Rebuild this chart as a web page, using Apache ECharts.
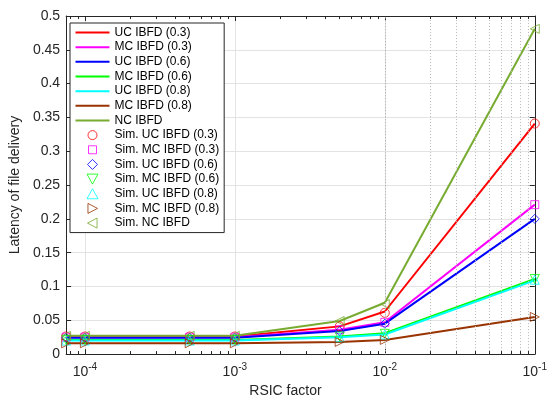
<!DOCTYPE html>
<html><head><meta charset="utf-8">
<script src="https://cdn.jsdelivr.net/npm/echarts@6/dist/echarts.min.js"></script>
<style>html,body{margin:0;padding:0;background:#fff}#c{width:550px;height:403px}</style>
</head><body><div id="c"></div>
<script>
// RSIC factor (x) values
const rsic = [7.5e-5, 1e-4, 5e-4, 1e-3, 5e-3, 1e-2, 1e-1];
// Analytical curves
const ucIbfd03 = [0.026, 0.026, 0.026, 0.026, 0.041, 0.063, 0.341];
const mcIbfd03 = [0.025, 0.025, 0.025, 0.025, 0.036, 0.047, 0.221];
const ucIbfd06 = [0.024, 0.024, 0.024, 0.024, 0.034, 0.045, 0.200];
const mcIbfd06 = [0.021, 0.021, 0.021, 0.021, 0.026, 0.031, 0.111];
const ucIbfd08 = [0.020, 0.020, 0.020, 0.020, 0.025, 0.029, 0.109];
const mcIbfd08 = [0.016, 0.016, 0.016, 0.016, 0.018, 0.021, 0.055];
const ncIbfd   = [0.027, 0.027, 0.027, 0.027, 0.049, 0.076, 0.481];
// Simulation points
const simUcIbfd03 = [0.026, 0.026, 0.026, 0.026, 0.041, 0.061, 0.341];
const simMcIbfd03 = [0.025, 0.025, 0.025, 0.025, 0.036, 0.047, 0.221];
const simUcIbfd06 = [0.024, 0.024, 0.024, 0.024, 0.034, 0.045, 0.200];
const simMcIbfd06 = [0.021, 0.021, 0.021, 0.021, 0.026, 0.030, 0.111];
const simUcIbfd08 = [0.020, 0.020, 0.020, 0.020, 0.025, 0.029, 0.110];
const simMcIbfd08 = [0.016, 0.016, 0.016, 0.016, 0.018, 0.021, 0.055];
const simNcIbfd   = [0.027, 0.027, 0.027, 0.027, 0.049, 0.074, 0.481];
// Axis ticks
const xDecades = [-5, -4, -3, -2];
const minorMult = [2, 3, 4, 5, 6, 7, 8, 9];
const yMin = 0, yMax = 0.5, yStep = 0.05;
const xMin = 7.5e-5, xMax = 0.1;

const C = {red:'#ff0000', mag:'#ff00ff', blue:'#0000ff', green:'#00ff00', cyan:'#00ffff', brown:'#993300', olive:'#77ac30'};
const axisCol = '#262626';

// legend icon shapes drawn inside a 34 x 10 box (marker centred)
const BOX = 'M0 0 M34 10 ';
const legendIcons = {
  circle: 'path://' + BOX + 'M21.5 5 A4.5 4.5 0 1 1 12.5 5 A4.5 4.5 0 1 1 21.5 5 Z',
  rect: 'path://' + BOX + 'M13 1 L21 1 L21 9 L13 9 Z',
  diamond: 'path://' + BOX + 'M17 0 L22 5 L17 10 L12 5 Z',
  up: 'path://' + BOX + 'M17 0 L22.5 10 L11.5 10 Z',
  down: 'path://' + BOX + 'M11.5 0 L22.5 0 L17 10 Z',
  right: 'path://' + BOX + 'M12 -0.5 L22.5 5 L12 10.5 Z',
  left: 'path://' + BOX + 'M22 -0.5 L22 10.5 L11.5 5 Z'
};

const lineDefs = [
  ['UC IBFD (0.3)', ucIbfd03, C.red],
  ['MC IBFD (0.3)', mcIbfd03, C.mag],
  ['UC IBFD (0.6)', ucIbfd06, C.blue],
  ['MC IBFD (0.6)', mcIbfd06, C.green],
  ['UC IBFD (0.8)', ucIbfd08, C.cyan],
  ['MC IBFD (0.8)', mcIbfd08, C.brown],
  ['NC IBFD', ncIbfd, C.olive]
];
const simDefs = [
  ['Sim. UC IBFD (0.3)', simUcIbfd03, C.red, 'circle', 0, legendIcons.circle],
  ['Sim. MC IBFD (0.3)', simMcIbfd03, C.mag, 'rect', 0, legendIcons.rect],
  ['Sim. UC IBFD (0.6)', simUcIbfd06, C.blue, 'diamond', 0, legendIcons.diamond],
  ['Sim. MC IBFD (0.6)', simMcIbfd06, C.green, 'triangle', 180, legendIcons.down],
  ['Sim. UC IBFD (0.8)', simUcIbfd08, C.cyan, 'triangle', 0, legendIcons.up],
  ['Sim. MC IBFD (0.8)', simMcIbfd08, C.brown, 'triangle', -90, legendIcons.right],
  ['Sim. NC IBFD', simNcIbfd, C.olive, 'triangle', 90, legendIcons.left]
];

const minorVals = [];
xDecades.forEach(d => minorMult.forEach(m => {
  const v = m * Math.pow(10, d);
  if (v > xMin && v < xMax) minorVals.push(v);
}));
const tickLen = 0.0045;
const markLineData = [];
minorVals.forEach(v => {
  markLineData.push([{coord:[v, yMin]}, {coord:[v, yMin + tickLen]}]);
  markLineData.push([{coord:[v, yMax]}, {coord:[v, yMax - tickLen]}]);
});

const series = [];
series.push({
  type:'line', name:'_minorgrid', data:[], z:1, silent:true,
  markLine:{silent:true, symbol:'none', animation:false, label:{show:false},
    lineStyle:{color:'#b8b8b8', type:[1,2], width:1},
    data: minorVals.map(v => ({xAxis: v}))}
});
series.push({
  type:'line', name:'_minorticks', data:[], z:6, silent:true,
  markLine:{silent:true, symbol:'none', animation:false, label:{show:false},
    lineStyle:{color:axisCol, type:'solid', width:1},
    data: markLineData}
});
lineDefs.forEach(([n, d, c]) => series.push({
  type:'line', name:n, data: rsic.map((x,i)=>[x, d[i]]), symbol:'none', z:3,
  lineStyle:{color:c, width:2}, itemStyle:{color:c}, animation:false
}));
simDefs.forEach(([n, d, c, s, r]) => series.push({
  type:'scatter', name:n, data: rsic.map((x,i)=>[x, d[i]]), symbol:s, symbolRotate:r,
  symbolSize: s === 'rect' ? 8 : 9, z:4, symbolKeepAspect:true,
  itemStyle:{color:'rgba(0,0,0,0)', borderColor:c, borderWidth:1}, animation:false
}));

const xFmt = v => {
  const e = Math.log10(v), r = Math.round(e);
  if (Math.abs(e - r) > 1e-6) return '';
  return '{b|10}{s|' + r + '}';
};

const legendData = lineDefs.map(d => ({
  name: d[0],
  itemStyle:{color:'rgba(0,0,0,0)', borderWidth:0, opacity:0}
})).concat(simDefs.map(d => ({
  name: d[0], icon: d[5], symbolRotate: 0,
  itemStyle:{color:'rgba(0,0,0,0)', borderColor:d[2], borderWidth:1}
})));

const chart = echarts.init(document.getElementById('c'));
chart.setOption({
  animation:false,
  backgroundColor:'#fff',
  textStyle:{fontFamily:'Liberation Sans, Arial, sans-serif'},
  grid:{left:62, top:16, right:14, bottom:40},
  legend:{
    orient:'vertical', left:70, top:23,
    padding:[3.5, 5, 3.5, 4.5], itemGap:2.66, itemWidth:34, itemHeight:10,
    backgroundColor:'#fff', borderColor:axisCol, borderWidth:1,
    textStyle:{fontSize:12, color:'#000'},
    selectedMode:false,
    data: legendData
  },
  xAxis:[{
    type:'log', logBase:10, min:xMin, max:xMax, position:'bottom',
    axisLine:{show:true, onZero:false, lineStyle:{color:axisCol, width:1}},
    axisTick:{show:true, inside:true, length:5, lineStyle:{color:axisCol}},
    axisLabel:{formatter:xFmt, margin:8, color:axisCol,
      rich:{b:{fontSize:14, lineHeight:17, verticalAlign:'bottom', color:axisCol},
            s:{fontSize:10, lineHeight:10, verticalAlign:'top', color:axisCol}}},
    splitLine:{show:true, lineStyle:{color:'#e3e3e3', width:1}},
    name:'RSIC factor', nameLocation:'middle', nameGap:26,
    nameTextStyle:{fontSize:14, color:axisCol, padding:[0,30,0,0]}
  },{
    type:'log', logBase:10, min:xMin, max:xMax, position:'top',
    axisLine:{show:true, onZero:false, lineStyle:{color:axisCol, width:1}},
    axisTick:{show:true, inside:true, length:5, lineStyle:{color:axisCol}},
    axisLabel:{show:false}, splitLine:{show:false}
  }],
  yAxis:[{
    type:'value', min:yMin, max:yMax, interval:yStep, position:'left',
    axisLine:{show:true, onZero:false, lineStyle:{color:axisCol, width:1}},
    axisTick:{show:true, inside:true, length:5, lineStyle:{color:axisCol}},
    axisLabel:{fontSize:14, color:axisCol, margin:6},
    splitLine:{show:true, lineStyle:{color:'#e3e3e3', width:1}},
    name:'Latency of file delivery', nameLocation:'middle', nameGap:35,
    nameTextStyle:{fontSize:14, color:axisCol}
  },{
    type:'value', min:yMin, max:yMax, interval:yStep, position:'right',
    axisLine:{show:true, onZero:false, lineStyle:{color:axisCol, width:1}},
    axisTick:{show:true, inside:true, length:5, lineStyle:{color:axisCol}},
    axisLabel:{show:false}, splitLine:{show:false}
  }],
  series: series
});
</script></body></html>
